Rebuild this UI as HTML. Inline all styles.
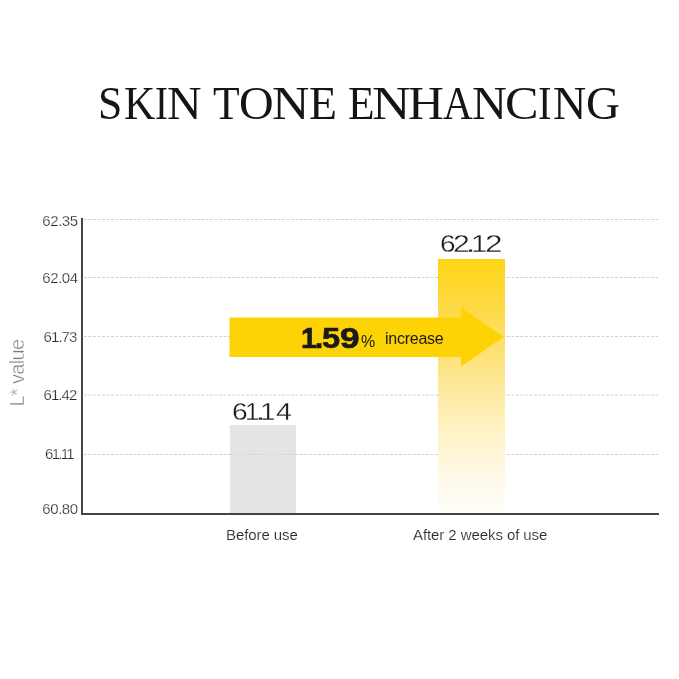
<!DOCTYPE html>
<html>
<head>
<meta charset="utf-8">
<style>
  html, body { margin: 0; padding: 0; background: #fff; }
  body { width: 679px; height: 679px; position: relative; overflow: hidden; font-family: "Liberation Sans", sans-serif; }
  .abs { position: absolute; }
  .xlab, .ytick, .val, .title, .abs { will-change: transform; }
  .title { position: absolute; left: 0; top: 0; width: 679px; height: 50px; white-space: nowrap; font-family: "Liberation Serif", serif; color: #151515; font-size: 47px; line-height: 1; }
  .title span { position: absolute; top: 0; transform-origin: 0 0; }
  .grid { position: absolute; left: 84px; width: 574px; height: 0; border-top: 1px dashed #d2d2d2; }
  .ytick { position: absolute; left: 30px; width: 60px; text-align: center; font-size: 15px; color: #2a2a2a; -webkit-text-stroke: 0.25px #fff; line-height: 1; letter-spacing: -0.45px; white-space: nowrap; }
  .xlab { position: absolute; font-size: 15px; letter-spacing: -0.08px; color: #2a2a2a; -webkit-text-stroke: 0.15px #fff; line-height: 1; white-space: nowrap; }
  .val { position: absolute; left:0; width:679px; height:26px; font-size: 23.5px; color: #1c1c1c; -webkit-text-stroke: 0.3px #fff; line-height: 1; white-space: nowrap; }
  .val span { position:absolute; top:0; transform-origin:0 0; }
  .bignum { width:679px; height:30px; font-size:29px; font-weight:bold; color:#1a1a1a; line-height:1; white-space:nowrap; -webkit-text-stroke:0.6px #1a1a1a; }
  .bignum span { position:absolute; top:0; transform-origin:0 0; }
</style>
</head>
<body>
  <div class="title" id="title" style="left:0; top:80px;">
<span style="left:98.3px;transform:scaleX(0.930);">S</span>
<span style="left:124.2px;transform:scaleX(0.921);">K</span>
<span style="left:154.7px;transform:scaleX(0.824);">I</span>
<span style="left:167.2px;transform:scaleX(1.019);">N</span>
<span style="left:213.3px;transform:scaleX(0.928);">T</span>
<span style="left:238.9px;transform:scaleX(1.021);">O</span>
<span style="left:271.9px;transform:scaleX(1.103);">N</span>
<span style="left:308.9px;transform:scaleX(0.974);">E</span>
<span style="left:348.1px;transform:scaleX(0.924);">E</span>
<span style="left:371.6px;transform:scaleX(1.132);">N</span>
<span style="left:407.8px;transform:scaleX(1.058);">H</span>
<span style="left:443.0px;transform:scaleX(0.876);">A</span>
<span style="left:471.9px;transform:scaleX(1.027);">N</span>
<span style="left:505.2px;transform:scaleX(1.069);">C</span>
<span style="left:538.2px;transform:scaleX(0.860);">I</span>
<span style="left:553.0px;transform:scaleX(0.981);">N</span>
<span style="left:586.0px;transform:scaleX(1.002);">G</span>
</div>

  <!-- gridlines -->
  <svg class="abs" style="left:0; top:0;" width="679" height="679">
    <g stroke="#d2d2d2" stroke-width="1" stroke-dasharray="3 1.5">
      <line x1="84" y1="219.5" x2="658" y2="219.5"/>
      <line x1="84" y1="277.5" x2="658" y2="277.5"/>
      <line x1="84" y1="336.5" x2="658" y2="336.5"/>
      <line x1="84" y1="395" x2="658" y2="395"/>
      <line x1="84" y1="454.5" x2="658" y2="454.5"/>
    </g>
  </svg>

  <!-- bars -->
  <div class="abs" style="left:230px; top:425px; width:66px; height:88px; background:#e4e4e4;"></div>
  <svg class="abs" style="left:0; top:0;" width="679" height="679">
    <line x1="230" y1="454.5" x2="296" y2="454.5" stroke="#d6d6d6" stroke-width="1" stroke-dasharray="3 1.5"/>
  </svg>
  <div class="abs" style="left:438px; top:259px; width:67px; height:254px; background:linear-gradient(to bottom, #fed414 0%, #fed83a 15%, #fee070 35%, #feea9f 52%, #fff3cb 70%, #fffaea 88%, #fffef9 100%);"></div>

  <!-- axes -->
  <div class="abs" style="left:81px; top:218px; width:2px; height:297px; background:#444;"></div>
  <div class="abs" style="left:81px; top:513px; width:578px; height:2px; background:#444;"></div>

  <!-- y ticks -->
  <div class="ytick" style="top:212.8px;">62.35</div>
  <div class="ytick" style="top:269.8px;">62.04</div>
  <div class="ytick" style="top:328.8px; letter-spacing:-0.95px;">61.73</div>
  <div class="ytick" style="top:386.8px; letter-spacing:-0.9px;">61.42</div>
  <div class="ytick" style="top:446.1px; left:28.6px; letter-spacing:-1.7px;">61.11</div>
  <div class="ytick" style="top:501.3px;">60.80</div>

  <!-- y label -->
  <div class="abs" style="left:-23.5px; top:363px; width:80px; text-align:center; font-size:20px; letter-spacing:-0.65px; color:#7a7a7a; -webkit-text-stroke:0.45px #fff; line-height:20px; transform:rotate(-90deg); white-space:nowrap;">L* value</div>

  <!-- arrow -->
  <svg class="abs" style="left:0; top:0;" width="679" height="679">
    <polygon points="229.5,317.4 461,317.4 461,307.5 504,336.7 461,366.5 461,357 229.5,357" fill="#fed305"/>
  </svg>
  <div class="abs bignum" id="big" style="left:0; top:323.5px;">
<span style="left:301.2px;transform:scaleX(0.994);font-family:"Liberation Mono";">1</span>
<span style="left:315.0px;transform:scaleX(1.014);">.</span>
<span style="left:321.5px;transform:scaleX(1.126);">5</span>
<span style="left:340.4px;transform:scaleX(1.217);">9</span>
</div>
  <div class="abs" style="left:361px; top:334px; font-size:16px; color:#1a1a1a; line-height:1;">%</div>
  <div class="abs" style="left:385px; top:330.5px; font-size:16px; letter-spacing:-0.25px; color:#1a1a1a; line-height:1;">increase</div>

  <!-- values -->
  <div class="val" id="v1" style="top:233px;">
<span style="left:439.7px;transform:scaleX(1.191);">6</span>
<span style="left:453.1px;transform:scaleX(1.285);">2</span>
<span style="left:465.4px;transform:scaleX(1.673);">.</span>
<span style="left:470.5px;transform:scaleX(1.244);font-family:"Liberation Mono";">1</span>
<span style="left:484.6px;transform:scaleX(1.340);">2</span>
</div>
  <div class="val" id="v2" style="top:401px;">
<span style="left:231.8px;transform:scaleX(1.204);">6</span>
<span style="left:244.8px;transform:scaleX(1.115);font-family:"Liberation Mono";">1</span>
<span style="left:254.5px;transform:scaleX(1.707);">.</span>
<span style="left:260.4px;transform:scaleX(1.175);font-family:"Liberation Mono";">1</span>
<span style="left:275.5px;transform:scaleX(1.212);">4</span>
</div>

  <!-- x labels -->
  <div class="xlab" style="left:226px; top:526.5px;">Before use</div>
  <div class="xlab" style="left:413px; top:526.5px;">After 2 weeks of use</div>
</body>
</html>
